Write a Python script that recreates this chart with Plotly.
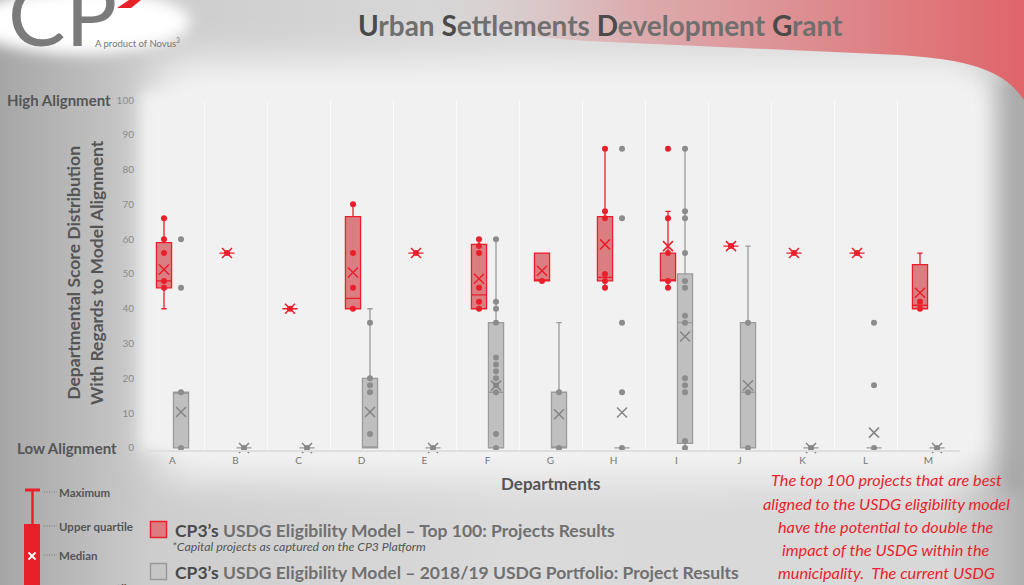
import base64
import plotly.graph_objects as go

# ---------------- data ----------------
categories = ["A", "B", "C", "D", "E", "F", "G", "H", "I", "J", "K", "L", "M"]
y_ticks = [0, 10, 20, 30, 40, 50, 60, 70, 80, 90, 100]

# CP3's USDG Eligibility Model - Top 100 (red)
top_lower  = [40, 56, 40, 40,   56, 40,   48, 46,   46, 58, 56, 56, 40]
top_q1     = [46, 56, 40, 40,   56, 40,   48, 48,   48, 58, 56, 56, 40]
top_median = [48, 56, 40, 43,   56, 44,   48, 49,   48, 58, 56, 56, 41]
top_q3     = [59, 56, 40, 66.5, 56, 58.5, 56, 66.5, 56, 58, 56, 56, 52.7]
top_upper  = [66, 56, 40, 70,   56, 60,   56, 86,   68, 58, 56, 56, 56]
top_mean   = [51.3, 56, 40, 50.4, 56, 48.6, 50.9, 58.5, 58.0, 58, 56, 56, 44.6]
top_points = [
    [66, 60, 56, 48, 46],
    [56],
    [40],
    [70, 56, 46, 40],
    [56],
    [60, 58, 56, 46, 42, 40],
    [48],
    [86, 68, 66, 50, 48, 46],
    [86, 66, 56, 48, 46],
    [58],
    [56],
    [56],
    [42, 40],
]

# CP3's USDG Eligibility Model - 2018/19 USDG Portfolio (grey)
port_lower  = [0, 0, 0, 0, 0, 0, 0, 0, 0, 0, 0, 0, 0]
port_q1     = [0, 0, 0, 0, 0, 0, 0, 0, 1.3, 0, 0, 0, 0]
port_median = [16, 0, 0, 0, 0, 16, 0, 0, 36, 16, 0, 0, 0]
port_q3     = [16, 0, 0, 20, 0, 36, 16, 0, 50, 36, 0, 0, 0]
port_upper  = [16, 0, 0, 40, 0, 60, 36, 0, 86, 58, 0, 0, 0]
port_mean   = [10.3, 0, 0, 10.3, 0, 17.9, 9.7, 10.2, 32.0, 18.0, 0, 4.4, 0]
port_points = [
    [60, 46, 16, 0],
    [0],
    [0],
    [36, 20, 18, 16, 4],
    [0],
    [60, 42, 40, 36, 26, 24, 22, 20, 18, 16, 4, 0],
    [16, 0],
    [86, 66, 36, 16, 0],
    [86, 68, 66, 56, 48, 46, 38, 36, 20, 18, 16, 2, 0],
    [36, 16, 0],
    [0],
    [36, 18, 0],
    [0],
]

# ---------------- styling ----------------
W, H = 1024, 585
ML, MR, MT, MB = 141, 64, 100, 135
PW, PH = W - ML - MR, H - MT - MB
FONT = "Lato"
RED = "#ea1f2b"
RED_FILL = "rgba(205,55,62,0.62)"
GREY_LINE = "#9b9b9b"
GREY_FILL = "rgba(165,165,165,0.65)"
GREY_DOT = "#8c8c8c"
GREY_X = "#858585"
OFF = 0.135
BOXW = 0.24


def P(x, y):
    """pixel -> paper coordinates"""
    return (x - ML) / PW, (H - MB - y) / PH


idx = list(range(len(categories)))
x_top = [i - OFF for i in idx]
x_port = [i + OFF for i in idx]

fig = go.Figure()

fig.add_trace(go.Box(
    x=x_top, q1=top_q1, median=top_median, q3=top_q3,
    lowerfence=top_lower, upperfence=top_upper,
    width=BOXW, whiskerwidth=0.35, boxpoints=False,
    fillcolor=RED_FILL, line=dict(color=RED, width=1.3),
    name="Top 100", showlegend=False, hoverinfo="skip"))

fig.add_trace(go.Box(
    x=x_port, q1=port_q1, median=port_median, q3=port_q3,
    lowerfence=port_lower, upperfence=port_upper,
    width=BOXW, whiskerwidth=0.35, boxpoints=False,
    fillcolor=GREY_FILL, line=dict(color=GREY_LINE, width=1.3),
    name="Portfolio", showlegend=False, hoverinfo="skip"))

px_t, py_t = [], []
for i, pts in zip(idx, top_points):
    px_t += [i - OFF] * len(pts)
    py_t += pts
px_p, py_p = [], []
for i, pts in zip(idx, port_points):
    px_p += [i + OFF] * len(pts)
    py_p += pts

fig.add_trace(go.Scatter(x=px_t, y=py_t, mode="markers", cliponaxis=False,
                         marker=dict(color=RED, size=6), showlegend=False, hoverinfo="skip"))
fig.add_trace(go.Scatter(x=px_p, y=py_p, mode="markers", cliponaxis=False,
                         marker=dict(color=GREY_DOT, size=6), showlegend=False, hoverinfo="skip"))
fig.add_trace(go.Scatter(x=x_top, y=top_mean, mode="markers", cliponaxis=False,
                         marker=dict(symbol="x-thin-open", size=10, color=RED,
                                     line=dict(color=RED, width=1.5)),
                         showlegend=False, hoverinfo="skip"))
fig.add_trace(go.Scatter(x=x_port, y=port_mean, mode="markers", cliponaxis=False,
                         marker=dict(symbol="x-thin-open", size=10, color=GREY_X,
                                     line=dict(color=GREY_X, width=1.5)),
                         showlegend=False, hoverinfo="skip"))

# ---------------- background art ----------------
svg = f"""<svg xmlns='http://www.w3.org/2000/svg' width='{W}' height='{H}' viewBox='0 0 {W} {H}'>
<defs>
<linearGradient id='base' x1='0' y1='0' x2='1' y2='0'>
<stop offset='0' stop-color='#a6a6a6'/>
<stop offset='0.15' stop-color='#cdcdcd'/>
<stop offset='0.5' stop-color='#dadada'/>
<stop offset='0.92' stop-color='#d8d8d8'/>
<stop offset='1' stop-color='#b0b0b0'/>
</linearGradient>
<linearGradient id='red' gradientUnits='userSpaceOnUse' x1='420' y1='0' x2='1024' y2='0'>
<stop offset='0' stop-color='#d4c8c8' stop-opacity='0'/>
<stop offset='0.35' stop-color='#dcaaac' stop-opacity='0.95'/>
<stop offset='1' stop-color='#df6569'/>
</linearGradient>
<linearGradient id='rshade' x1='0' y1='0' x2='1' y2='0'>
<stop offset='0' stop-color='#9a9a9a' stop-opacity='0'/>
<stop offset='1' stop-color='#9a9a9a' stop-opacity='0.75'/>
</linearGradient>
<filter id='b20' x='-30%' y='-30%' width='160%' height='160%'><feGaussianBlur stdDeviation='18'/></filter>
<filter id='b8' x='-30%' y='-30%' width='160%' height='160%'><feGaussianBlur stdDeviation='7'/></filter>
</defs>
<rect width='{W}' height='{H}' fill='url(#base)'/>
<rect x='150' y='60' width='850' height='420' rx='40' fill='#f3f3f3' filter='url(#b20)'/>
<rect x='141' y='92' width='840' height='358' fill='#f1f1f1' filter='url(#b8)'/>
<rect x='985' y='80' width='39' height='410' fill='url(#rshade)' filter='url(#b8)'/>
<path d='M 420 0 L 1024 0 L 1024 100 C 1005 72 975 60 900 55 L 610 42 C 540 40 470 30 420 0 Z' fill='url(#red)'/>
<ellipse cx='80' cy='22' rx='110' ry='32' fill='#ffffff' filter='url(#b8)'/>
<polygon points='117,8 129,0 141,0 131,8' fill='#e8202a'/>
<line x1='25' y1='490' x2='40' y2='490' stroke='#e8202a' stroke-width='3'/>
<line x1='32.5' y1='490' x2='32.5' y2='524' stroke='#e8202a' stroke-width='2.5'/>
<rect x='24' y='524' width='16' height='70' fill='#e8202a'/>
<path d='M28.5 552.5 L35.5 559.5 M35.5 552.5 L28.5 559.5' stroke='#ffffff' stroke-width='1.8'/>
<g stroke='#777777' stroke-width='1' stroke-dasharray='1,1.5'>
<line x1='44' y1='492' x2='57' y2='492'/>
<line x1='44' y1='526' x2='57' y2='526'/>
<line x1='44' y1='555' x2='57' y2='555'/>
<line x1='44' y1='587' x2='57' y2='587'/>
</g>
<rect x='150.5' y='521.5' width='16' height='16' fill='#dc7c80' stroke='#e8202a' stroke-width='1.5'/>
<rect x='150.5' y='563.5' width='16' height='16' fill='#c6c6c6' stroke='#9a9a9a' stroke-width='1.5'/>
</svg>"""
src = "data:image/svg+xml;base64," + base64.b64encode(svg.encode()).decode()

fig.add_layout_image(dict(
    source=src, xref="paper", yref="paper",
    x=-ML / PW, y=1 + MT / PH, sizex=W / PW, sizey=H / PH,
    xanchor="left", yanchor="top", sizing="stretch", layer="below"))

# ---------------- annotations ----------------
ann = []


def add(text, x, y, size, color="#555555", xa="center", ya="middle", angle=0, weight="normal"):
    ax, ay = P(x, y)
    ann.append(dict(text=text, x=ax, y=ay, xref="paper", yref="paper", showarrow=False,
                    xanchor=xa, yanchor=ya, textangle=angle,
                    font=dict(family=FONT, size=size, color=color, weight=weight)))


D = "#4a4a4a"
title = (f"<span style='color:{D}'>U</span>rban <span style='color:{D}'>S</span>ettlements "
         f"<span style='color:{D}'>D</span>evelopment <span style='color:{D}'>G</span>rant")
add(title, 600, 25, 28, color="#6f6f6f", weight="bold")
add("CP", 62, 12, 86, color="#7b7b7b", weight="normal")
add("A product of Novus<sup>3</sup>", 93, 42, 9.5, color="#777777", xa="left")
add("High Alignment", 113, 100, 15, color="#555555", xa="right", weight="bold")
add("Low Alignment", 119, 448, 15, color="#555555", xa="right", weight="bold")
add("Departmental Score Distribution<br>With Regards to Model Alignment", 85, 273, 17.5,
    color="#555555", angle=-90, weight="bold")
add("Departments", 550, 483, 17, color="#555555", weight="bold")

for txt, yy in [("Maximum", 492), ("Upper quartile", 526), ("Median", 555), ("Lower quartile", 588)]:
    add(txt, 57, yy, 11.5, color="#555555", xa="left", weight="bold")

add(f"<span style='color:{D}'>CP3’s</span> USDG Eligibility Model – Top 100: Projects Results",
    173, 530, 17.5, color="#707070", xa="left", weight="bold")
add("<i>*Capital projects as captured on the CP3 Platform</i>", 170, 546, 12.3, color="#555555", xa="left")
add(f"<span style='color:{D}'>CP3’s</span> USDG Eligibility Model – 2018/19 USDG Portfolio: Project Results",
    173, 572, 17.5, color="#707070", xa="left", weight="bold")
add("<i>*Capital projects as identified by the municipality and allocated to the USDG portfolio on CP3</i>",
    170, 589, 12.3, color="#555555", xa="left")

red_lines = ["The top 100 projects that are best",
             "aligned to the USDG eligibility model",
             "have the potential to double the",
             "impact of the USDG within the",
             "municipality.  The current USDG",
             "funded projects are not as"]
for k, line in enumerate(red_lines):
    add(f"<i>{line}</i>", 886, 480 + 23 * k, 16.3, color="#ea1f2b")

fig.update_layout(
    width=W, height=H,
    margin=dict(l=ML, r=MR, t=MT, b=MB, pad=0),
    paper_bgcolor="#d8d8d8", plot_bgcolor="rgba(0,0,0,0)",
    annotations=ann, showlegend=False,
    font=dict(family=FONT),
    xaxis=dict(range=[-0.5, len(categories) - 0.5], tickmode="array", tickvals=idx,
               ticktext=categories, showgrid=False, zeroline=False,
               showline=True, linecolor="#dedede", linewidth=2,
               tickfont=dict(size=10, color="#777777"), ticks="",
               minor=dict(tickmode="linear", tick0=0.5, dtick=1, showgrid=True,
                          gridcolor="#fbfbfb", gridwidth=1.3, ticks="")),
    yaxis=dict(range=[-0.6, 100], tickmode="array", tickvals=y_ticks, showgrid=False,
               zeroline=False, showline=False, tickfont=dict(size=10, color="#8a8a8a"),
               ticks="", ticklabelstandoff=6),
)

fig.write_html("out.html")
